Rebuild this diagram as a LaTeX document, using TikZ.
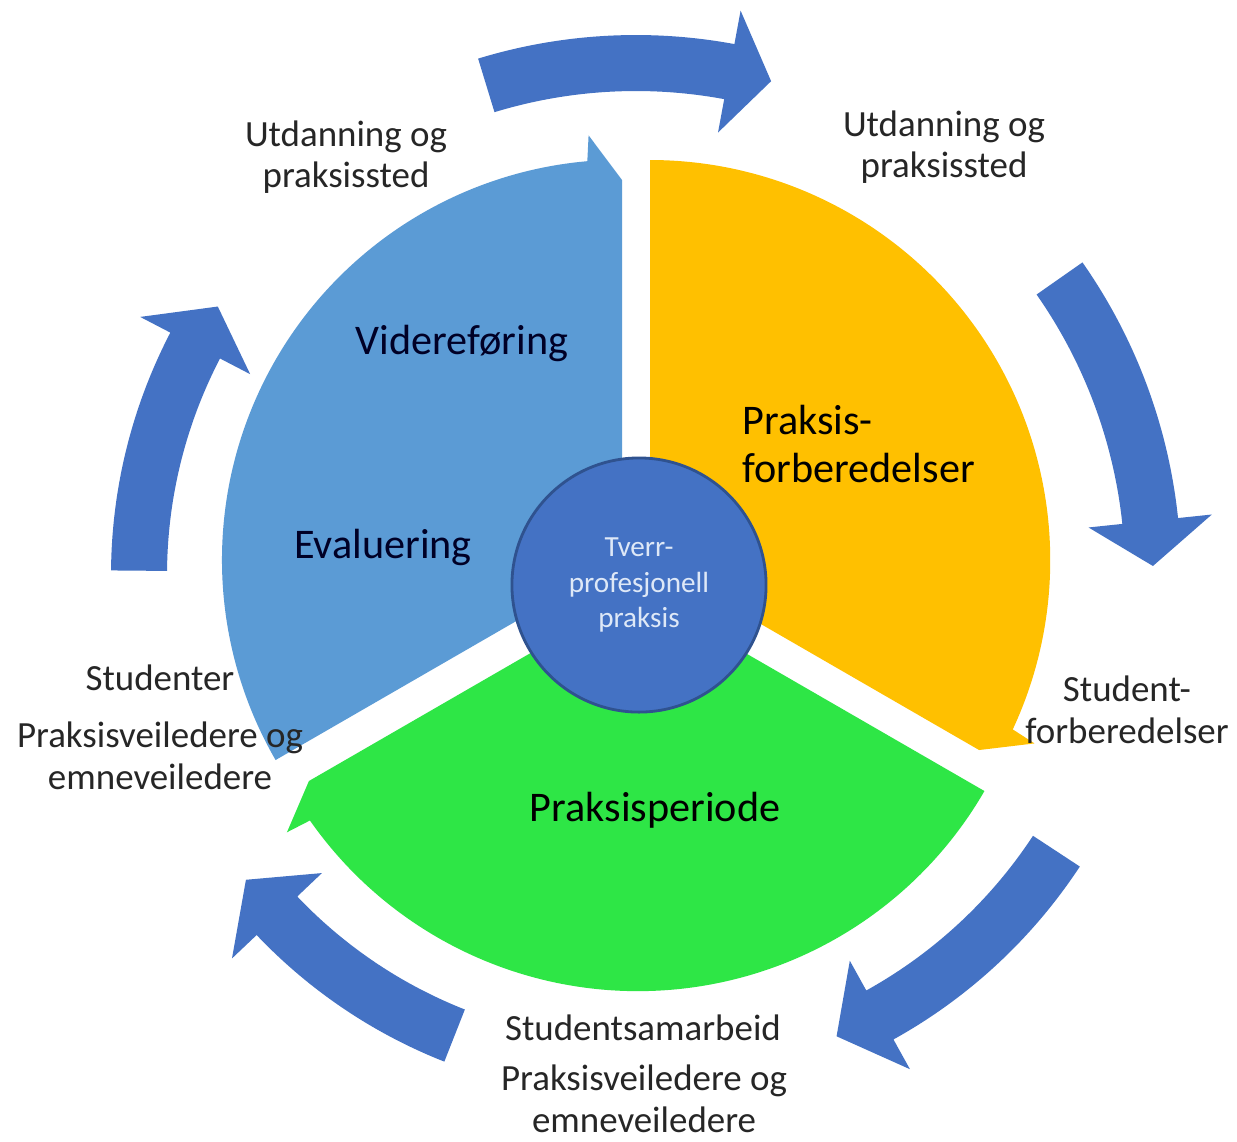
\documentclass[tikz,border=0pt]{standalone}
\usepackage{fontspec}
\setmainfont{Carlito}
\usetikzlibrary{calc}

\definecolor{arrowblue}{RGB}{68,114,196}
\definecolor{evalblue}{RGB}{91,155,213}
\definecolor{prepyellow}{RGB}{255,192,0}
\definecolor{periodgreen}{RGB}{46,230,70}
\definecolor{hubedge}{RGB}{47,82,143}
\definecolor{hubtext}{RGB}{222,232,247}
\definecolor{labeltext}{RGB}{38,38,38}

% sector with a half arrow head at its end: colour, centre, start angle, end angle
\newcommand{\phasesector}[4]{%
  \fill[#1] (#2) -- ++(#3:400) arc[start angle=#3, end angle=#4+5, radius=4cm]
    -- ($(#2)+(#4+4.5:426)$) -- ($(#2)+(#4:380)$) -- cycle;}

% curved block arrow round the middle: tail, neck and tip angle, mid radius
\newcommand{\looparrow}[4]{%
  \fill[arrowblue] (#1:{#4+28}) arc[start angle=#1, end angle=#2, radius={(#4+28)*0.01cm}]
    -- (#2:{#4+62}) -- (#3:#4) -- (#2:{#4-62})
    -- (#2:{#4-28}) arc[start angle=#2, end angle=#1, radius={(#4-28)*0.01cm}] -- cycle;}

\tikzset{
  outlbl/.style={text=labeltext, align=center, font=\fontsize{10.5}{11.8}\selectfont},
  phaselbl/.style={text=black, align=left, font=\fontsize{12}{13.8}\selectfont},
}

\begin{document}
\begin{tikzpicture}[x=0.01cm, y=0.01cm]
  \fill[white] (0,0) rectangle (1237,-1141);
  \useasboundingbox (0,0) rectangle (1237,-1141);

  % outer arrows
  \begin{scope}[shift={(636,-575)}]
    \looparrow{107}{79.5}{74.7}{512}
    \looparrow{35}{6}{1}{517}
    \looparrow{-33.3}{-61}{-66.5}{503}
    \looparrow{248.5}{223.5}{218}{495}
    \looparrow{179.5}{152.5}{147.3}{497}
  \end{scope}

  % the three phases
  \coordinate (cy) at (650,-560);
  \coordinate (cg) at (638,-591);
  \coordinate (cb) at (622,-560);
  \phasesector{prepyellow}{cy}{90}{-30}
  \phasesector{periodgreen}{cg}{-30}{-150}
  \phasesector{evalblue}{cb}{210}{90}

  \node[circle, draw=hubedge, line width=0.8pt, fill=arrowblue, minimum size=2.54cm,
    inner sep=0pt, text=hubtext, align=center, font=\fontsize{8.3}{10.2}\selectfont]
    (hub) at (639,-585) {Tverr-\\profesjonell\\praksis};

  % phase names
  \node[phaselbl, text=black!85!blue] (vid) at (462,-343) {Videreføring};
  \node[phaselbl, text=black!85!blue] (eva) at (383,-547) {Evaluering};
  \node[phaselbl, anchor=west] (prf) at (730,-444) {Praksis-\\forberedelser};
  \node[phaselbl] (per) at (655,-810) {Praksisperiode};

  % who is involved
  \node[outlbl] (ud1) at (346,-157) {Utdanning og\\praksissted};
  \node[outlbl] (ud2) at (944,-147) {Utdanning og\\praksissted};
  \node[outlbl] (stf) at (1127,-710) {Student-\\forberedelser};
  \node[outlbl] (stu) at (160,-678) {Studenter};
  \node[outlbl] (pv1) at (160,-756) {Praksisveiledere og\\emneveiledere};
  \node[outlbl] (sam) at (643,-1028) {Studentsamarbeid};
  \node[outlbl, inner sep=0pt] (pv2) at (644,-1099) {Praksisveiledere og\\emneveiledere};
\end{tikzpicture}
\end{document}
